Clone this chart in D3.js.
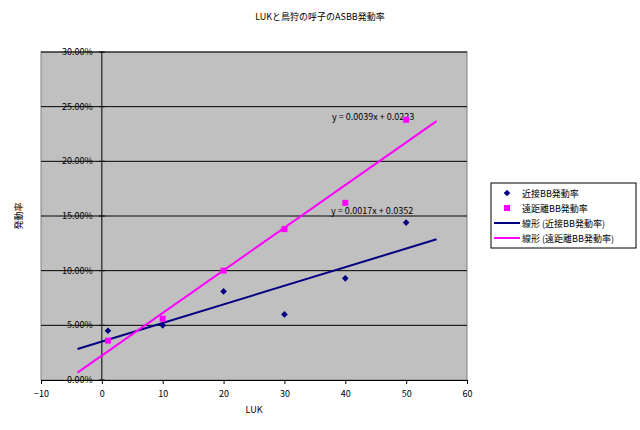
<!DOCTYPE html><html><head><meta charset="utf-8"><script src="https://d3js.org/d3.v7.min.js"></script>
<style>body{margin:0;background:#fff}text{font-family:"Noto Sans CJK JP","DejaVu Sans",sans-serif;font-size:9px}</style></head><body><script>
const xVals=[1,10,20,30,40,50];
const nearVals=[0.045,0.050,0.081,0.060,0.093,0.144];
const farVals=[0.036,0.056,0.100,0.138,0.162,0.238];
const nearFit={slope:0.0017,intercept:0.0352,label:"y = 0.0017x + 0.0352"};
const farFit={slope:0.0039,intercept:0.0223,label:"y = 0.0039x + 0.0223"};
const fitRange=[-4,55];
const xTicks=[-10,0,10,20,30,40,50,60];
const yTicks=[0,0.05,0.10,0.15,0.20,0.25,0.30];
const legendLabels=["近接BB発動率","遠距離BB発動率","線形 (近接BB発動率)","線形 (遠距離BB発動率)"];
const W=640,H=430;
const svg=d3.select("body").append("svg").attr("width",W).attr("height",H);
const x=d3.scaleLinear().domain([-10,60]).range([41,467]);
const y=d3.scaleLinear().domain([0,0.30]).range([380,52]);
svg.append("rect").attr("x",41).attr("y",52).attr("width",426).attr("height",328).attr("fill","#c0c0c0").attr("stroke","#808080");
svg.selectAll(".g").data(yTicks.slice(1)).join("line").attr("x1",41).attr("x2",467).attr("y1",d=>y(d)).attr("y2",d=>y(d)).attr("stroke","#000");
svg.append("line").attr("x1",x(0)).attr("x2",x(0)).attr("y1",52).attr("y2",380).attr("stroke","#000");
svg.selectAll(".yt").data(yTicks).join("line").attr("x1",x(0)-3).attr("x2",x(0)+3).attr("y1",d=>y(d)).attr("y2",d=>y(d)).attr("stroke","#000");
svg.selectAll(".yl").data(yTicks).join("text").attr("x",x(0)-9).attr("y",d=>y(d)+3).attr("text-anchor","end").text(d=>(d*100).toFixed(2)+"%");
const xa=svg.append("g").attr("transform","translate(0,380)").call(d3.axisBottom(x).tickValues(xTicks).tickSize(4).tickFormat(d3.format("d")));
xa.select(".domain").attr("stroke","#000");
xa.selectAll("text").style("font-size","9px").attr("dy","1.1em");
const line=d3.line().x(d=>x(d[0])).y(d=>y(d[1]));
[[nearFit,"#000080"],[farFit,"#ff00ff"]].forEach(([f,c])=>{
 svg.append("path").attr("d",line(fitRange.map(v=>[v,f.slope*v+f.intercept]))).attr("stroke",c).attr("stroke-width",2).attr("fill","none");
});
svg.append("text").attr("x",331).attr("y",y(0.152)).text(nearFit.label);
svg.append("text").attr("x",332).attr("y",y(0.2375)).text(farFit.label);
const diamond=d3.symbol().type(d3.symbolSquare).size(22);
svg.selectAll(".n").data(xVals).join("path").attr("d",diamond).attr("transform",(d,i)=>`translate(${x(d)},${y(nearVals[i])}) rotate(45)`).attr("fill","#000080");
svg.selectAll(".f").data(xVals).join("rect").attr("x",d=>x(d)-3).attr("y",(d,i)=>y(farVals[i])-3).attr("width",6).attr("height",6).attr("fill","#ff00ff");
svg.append("text").attr("x",320).attr("y",20).attr("text-anchor","middle").text("LUKと鳥狩の呼子のASBB発動率");
svg.append("text").attr("x",254).attr("y",413).attr("text-anchor","middle").text("LUK");
svg.append("text").attr("transform","translate(22,216) rotate(-90)").attr("text-anchor","middle").text("発動率");
const lg=svg.append("g");
lg.append("rect").attr("x",491).attr("y",183).attr("width",145).attr("height",65).attr("fill","#fff").attr("stroke","#000");
legendLabels.forEach((t,i)=>{
 const yy=193+i*15;
 if(i==0) lg.append("path").attr("d",diamond).attr("transform",`translate(507,${yy}) rotate(45)`).attr("fill","#000080");
 if(i==1) lg.append("rect").attr("x",504).attr("y",yy-3).attr("width",6).attr("height",6).attr("fill","#ff00ff");
 if(i>=2) lg.append("line").attr("x1",494).attr("x2",520).attr("y1",yy).attr("y2",yy).attr("stroke",i==2?"#000080":"#ff00ff").attr("stroke-width",2);
 lg.append("text").attr("x",522).attr("y",yy+3.5).text(t);
});
</script></body></html>
